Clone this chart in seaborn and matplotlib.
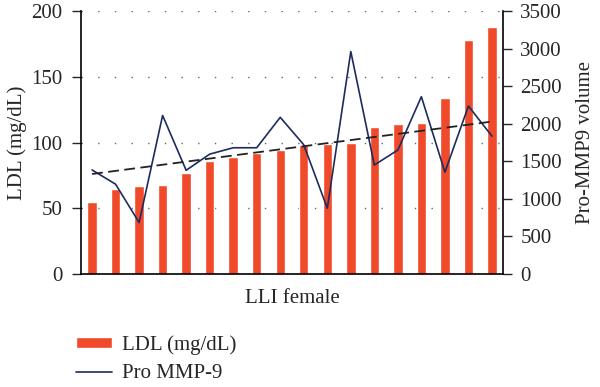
import numpy as np
import pandas as pd
import matplotlib
matplotlib.use("Agg")
import matplotlib.pyplot as plt
import seaborn as sns

# LDL per subject (sorted) and matching Pro MMP-9 volume
subjects = list(range(1, 19))
ldl = [55, 65, 67, 68, 77, 86, 89, 92, 94, 98, 99, 100, 112, 114, 115, 134, 178, 188]
mmp9 = [1385, 1195, 685, 2110, 1380, 1595, 1680, 1680, 2085, 1720,
        875, 2960, 1450, 1650, 2360, 1355, 2235, 1835]

left_ticks = [0, 50, 100, 150, 200]
right_ticks = [0, 500, 1000, 1500, 2000, 2500, 3000, 3500]

bar_color = "#F04A2B"
line_color = "#1D2C5E"

sns.set_style("white")
plt.rcParams["font.family"] = ["Liberation Serif", "DejaVu Serif"]
plt.rcParams["font.size"] = 15

df = pd.DataFrame({"subject": subjects, "ldl": ldl, "mmp9": mmp9})
df["pos"] = np.arange(len(df))

fig = plt.figure(figsize=(6.0, 3.87), dpi=100)
ax = fig.add_axes([81 / 600, 1 - 274 / 387, (503 - 81) / 600, (274 - 11) / 387])

sns.barplot(data=df, x="subject", y="ldl", color=bar_color, saturation=1,
            width=0.4, ax=ax, label="LDL (mg/dL)")
ax.set_xlim(-0.47, len(df) - 0.53)
ax.set_ylim(0, 200)
ax.set_yticks(left_ticks)
ax.set_xticks([])
ax.set_xlabel("LLI female", fontsize=15, labelpad=11)
ax.set_ylabel("LDL (mg/dL)", fontsize=15, labelpad=3)
ax.grid(axis="y", linestyle=(0, (1, 11)), color="#666666", linewidth=1.0)
ax.set_axisbelow(True)
ax.tick_params(axis="y", direction="out", length=6.5, width=1, left=True, labelsize=15, pad=7)
for side in ["left", "bottom"]:
    ax.spines[side].set_color("black")
    ax.spines[side].set_linewidth(1.2)
ax.spines["top"].set_visible(False)
ax.spines["right"].set_visible(False)

ax2 = ax.twinx()
sns.lineplot(data=df, x="pos", y="mmp9", color=line_color, linewidth=1.2,
             ax=ax2, label="Pro MMP-9")
slope, icpt = np.polyfit(df["pos"], df["mmp9"], 1)
ax2.plot(df["pos"], icpt + slope * df["pos"], color="#222222", linestyle=(0, (6, 3)),
         linewidth=1.3)
ax2.set_ylim(0, 3500)
ax2.set_yticks(right_ticks)
ax2.set_ylabel("Pro-MMP9 volume", fontsize=15, labelpad=10)
ax2.set_xlabel("")
ax2.tick_params(axis="y", direction="out", length=6.5, width=1, right=True, labelsize=15, pad=6)
ax2.spines["right"].set_visible(True)
ax2.spines["right"].set_color("black")
ax2.spines["right"].set_linewidth(1.2)
for side in ["left", "top", "bottom"]:
    ax2.spines[side].set_visible(False)
ax2.get_legend().remove()
if ax.get_legend() is not None:
    ax.get_legend().remove()

handles = [ax.containers[0], ax2.lines[0]]
labels = ["LDL (mg/dL)", "Pro MMP-9"]
fig.legend(handles, labels, loc="upper left", bbox_to_anchor=(76 / 600, 1 - 335 / 387),
           frameon=False, fontsize=15, handlelength=1.75, handleheight=0.45,
           labelspacing=0.45, handletextpad=0.45, borderaxespad=0, borderpad=0)

fig.savefig("out.png", dpi=100)
